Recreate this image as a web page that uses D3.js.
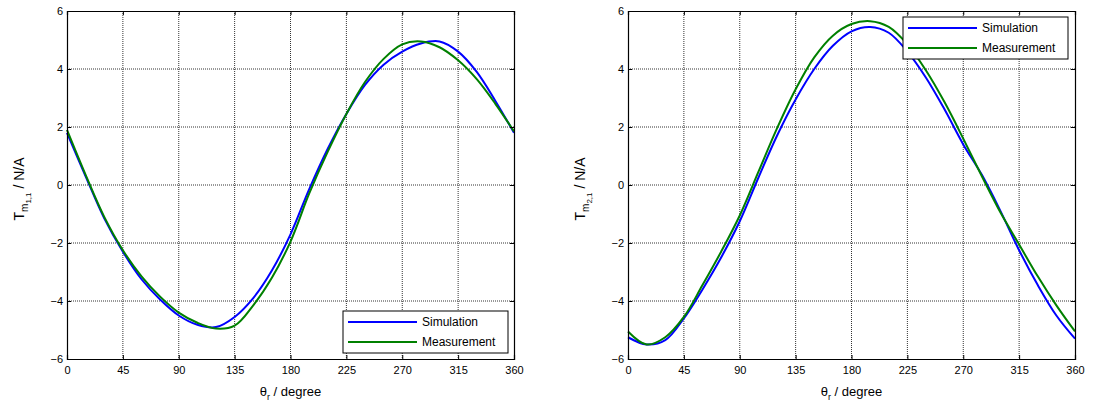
<!DOCTYPE html>
<html>
<head>
<meta charset="utf-8">
<script src="https://cdn.jsdelivr.net/npm/d3@7"></script>
<style>
  body { margin: 0; background: #fff; }
  text { font-family: "Liberation Sans", Arial, sans-serif; }
</style>
</head>
<body>
<div class="chart"></div>
<script>
// angles (degree)
var theta = [0, 15, 30, 45, 60, 75, 90, 105, 120, 135, 150, 165, 180, 195, 210, 225, 240, 255, 270, 285, 300, 315, 330, 345, 360];

// left panel: T_m1,1
var sim11 = [1.8, 0.3, -1.15, -2.3, -3.25, -3.95, -4.5, -4.82, -4.9, -4.55, -3.9, -2.95, -1.7, -0.15, 1.25, 2.45, 3.45, 4.15, 4.6, 4.88, 4.95, 4.6, 3.9, 2.9, 1.8];
var meas11 = [1.9, 0.35, -1.1, -2.25, -3.15, -3.85, -4.4, -4.75, -4.95, -4.85, -4.15, -3.2, -1.95, -0.3, 1.15, 2.45, 3.55, 4.35, 4.85, 4.95, 4.75, 4.3, 3.65, 2.8, 1.85];

// right panel: T_m2,1
var sim21 = [-5.25, -5.5, -5.35, -4.6, -3.6, -2.5, -1.25, 0.25, 1.7, 2.95, 4.0, 4.8, 5.3, 5.45, 5.25, 4.6, 3.7, 2.6, 1.4, 0.35, -0.9, -2.25, -3.45, -4.5, -5.3];
var meas21 = [-5.05, -5.5, -5.25, -4.55, -3.45, -2.3, -1.05, 0.45, 1.95, 3.3, 4.4, 5.15, 5.55, 5.65, 5.45, 4.85, 3.95, 2.85, 1.6, 0.3, -0.95, -2.05, -3.15, -4.15, -5.05];

var xTicks = [0, 45, 90, 135, 180, 225, 270, 315, 360];
var yTicks = [-6, -4, -2, 0, 2, 4, 6];
var seriesNames = ["Simulation", "Measurement"];
var seriesColors = ["#0000ff", "#008000"];

var svgWidth = 1093;
var svgHeight = 410;

var svg = d3.select(".chart")
  .append("svg")
  .attr("width", svgWidth)
  .attr("height", svgHeight)
  .style("display", "block");

svg.append("rect").attr("width", svgWidth).attr("height", svgHeight).attr("fill", "#fff");

var panels = [
  { left: 67, sub: "1,1", data: [sim11, meas11], legend: { x: 343, y: 311 } },
  { left: 628, sub: "2,1", data: [sim21, meas21], legend: { x: 903, y: 17 } }
];

var plotW = 447;
var plotTop = 11;
var plotH = 348;

panels.forEach(function(p) {
  var x = d3.scaleLinear().domain([0, 360]).range([0, plotW]);
  var y = d3.scaleLinear().domain([-6, 6]).range([plotH, 0]);

  var g = svg.append("g").attr("transform", "translate(" + p.left + "," + plotTop + ")");

  // grid
  g.append("g").selectAll("line")
    .data(xTicks.slice(1, -1))
    .enter().append("line")
      .attr("x1", function(d) { return x(d); })
      .attr("x2", function(d) { return x(d); })
      .attr("y1", 0).attr("y2", plotH)
      .attr("stroke", "#333").attr("stroke-dasharray", "1,1").attr("stroke-width", 1);
  g.append("g").selectAll("line")
    .data(yTicks.slice(1, -1))
    .enter().append("line")
      .attr("y1", function(d) { return y(d); })
      .attr("y2", function(d) { return y(d); })
      .attr("x1", 0).attr("x2", plotW)
      .attr("stroke", "#333").attr("stroke-dasharray", "1,1").attr("stroke-width", 1);

  // curves
  var line = d3.line()
    .x(function(d, i) { return x(theta[i]); })
    .y(function(d) { return y(d); })
    .curve(d3.curveCatmullRom.alpha(0.5));

  p.data.forEach(function(s, k) {
    g.append("path")
      .datum(s)
      .attr("d", line)
      .attr("fill", "none")
      .attr("stroke", seriesColors[k])
      .attr("stroke-width", 2);
  });

  // axes (ticks inward, full box)
  var bottomAxis = d3.axisBottom(x).tickValues(xTicks).tickSize(-4).tickPadding(7);
  var leftAxis = d3.axisLeft(y).tickValues(yTicks).tickSize(-4).tickPadding(4).tickFormat(d3.format("d"));
  var topAxis = d3.axisTop(x).tickValues(xTicks).tickSize(-4).tickFormat("");
  var rightAxis = d3.axisRight(y).tickValues(yTicks).tickSize(-4).tickFormat("");

  var ax = [
    g.append("g").attr("transform", "translate(0," + plotH + ")").call(bottomAxis),
    g.append("g").call(leftAxis),
    g.append("g").call(topAxis),
    g.append("g").attr("transform", "translate(" + plotW + ",0)").call(rightAxis)
  ];
  ax.forEach(function(a) {
    a.attr("font-family", null).attr("font-size", null);
    a.select(".domain").attr("stroke", "#000").attr("stroke-width", 1.2);
    a.selectAll(".tick line").attr("stroke", "#000");
    a.selectAll("text").attr("font-size", 11).attr("fill", "#000");
  });

  // x label
  var xl = g.append("text")
    .attr("x", plotW / 2)
    .attr("y", plotH + 37)
    .attr("text-anchor", "middle")
    .attr("font-size", 13);
  xl.append("tspan").text("\u03b8");
  xl.append("tspan").attr("font-size", 9).attr("dy", 4).text("r");
  xl.append("tspan").attr("dy", -4).text(" / degree");

  // y label
  var yl = g.append("text")
    .attr("transform", "translate(-43," + (plotH / 2 + 4) + ") rotate(-90)")
    .attr("text-anchor", "middle")
    .attr("font-size", 14);
  yl.append("tspan").text("T");
  yl.append("tspan").attr("font-size", 10).attr("dy", 4).text("m");
  yl.append("tspan").attr("font-size", 8).attr("dy", 3).text(p.sub);
  yl.append("tspan").attr("dy", -7).text(" / N/A");

  // legend
  var lg = svg.append("g").attr("transform", "translate(" + p.legend.x + "," + p.legend.y + ")");
  lg.append("rect")
    .attr("width", 165).attr("height", 42)
    .attr("fill", "#fff").attr("stroke", "#000").attr("stroke-width", 1);
  seriesNames.forEach(function(name, k) {
    var ly = 11 + k * 20;
    lg.append("line")
      .attr("x1", 5).attr("x2", 74)
      .attr("y1", ly).attr("y2", ly)
      .attr("stroke", seriesColors[k]).attr("stroke-width", 2);
    lg.append("text")
      .attr("x", 79).attr("y", ly + 4)
      .attr("font-size", 12)
      .text(name);
  });
});
</script>
</body>
</html>
